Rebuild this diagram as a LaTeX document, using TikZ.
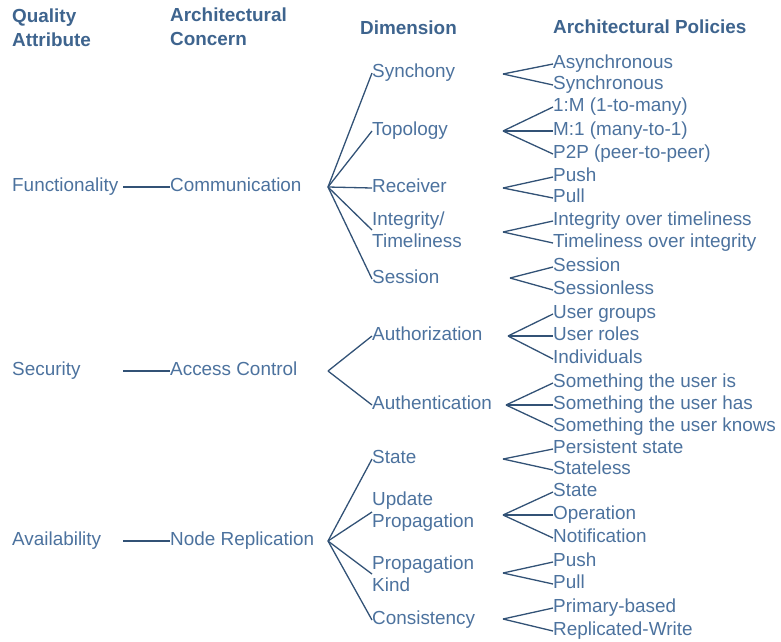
\documentclass[tikz,border=0pt]{standalone}
\usepackage{fontspec}
\setmainfont{Liberation Sans}
\definecolor{txtc}{RGB}{76,114,158}
\definecolor{hdrc}{RGB}{62,100,142}
\definecolor{linec}{RGB}{50,82,118}
\begin{document}
\begin{tikzpicture}[x=1pt,y=-1pt,
  lbl/.style={anchor=west, inner sep=0pt, text=txtc, font=\fontsize{18.9}{22}\selectfont, text height=13.6pt, text depth=4pt},
  lbltwo/.style={anchor=west, inner sep=0pt, text=txtc, font=\fontsize{18.9}{22}\selectfont, align=left},
  hdr/.style={anchor=west, inner sep=0pt, text=hdrc, font=\fontsize{18.9}{24}\selectfont\bfseries, align=left},
  conn/.style={draw=linec, line width=1.3pt}]
\useasboundingbox (0,0) rectangle (781,641);

% headers
\node[hdr] (h1) at (12,28) {Quality\\Attribute};
\node[hdr] (h2) at (170,27) {Architectural\\Concern};
\node[hdr] (h3) at (360,28) {Dimension};
\node[hdr] (h4) at (553,27) {Architectural Policies};

% quality attributes and concerns
\node[lbl] (func) at (12,187) {Functionality};
\node[lbl] (comm) at (170,187) {Communication};
\node[lbl] (sec) at (12,371) {Security};
\node[lbl] (ac) at (170,371) {Access Control};
\node[lbl] (avail) at (12,541) {Availability};
\node[lbl] (nr) at (170,541) {Node Replication};

\coordinate (s1) at (123,187);
\coordinate (s2) at (123,371);
\coordinate (s3) at (123,541);
\draw[conn] (s1) -- (comm.west);
\draw[conn] (s2) -- (ac.west);
\draw[conn] (s3) -- (nr.west);

% dimensions
\node[lbl] (syn) at (372,73) {Synchony};
\node[lbl] (top) at (372,131) {Topology};
\node[lbl] (rec) at (372,188) {Receiver};
\node[lbltwo] (int) at (372,230) {Integrity/\\Timeliness};
\node[lbl] (ses) at (372,279) {Session};
\node[lbl] (autz) at (372,336) {Authorization};
\node[lbl] (autn) at (372,405) {Authentication};
\node[lbl] (st) at (372,459) {State};
\node[lbltwo] (up) at (372,512) {Update\\Propagation};
\node[lbltwo] (pk) at (372,574) {Propagation\\Kind};
\node[lbl] (con) at (372,620) {Consistency};

\coordinate (cf) at (328,187);
\coordinate (af) at (328,371);
\coordinate (nf) at (328,541);
\foreach \d in {syn,top,rec,int,ses} \draw[conn] (cf) -- (\d.west);
\foreach \d in {autz,autn} \draw[conn] (af) -- (\d.west);
\foreach \d in {st,up,pk,con} \draw[conn] (nf) -- (\d.west);

% policies
\node[lbl] (p1) at (553,64) {Asynchronous};
\node[lbl] (p2) at (553,85) {Synchronous};
\node[lbl] (p3) at (553,107) {1:M (1-to-many)};
\node[lbl] (p4) at (553,131) {M:1 (many-to-1)};
\node[lbl] (p5) at (553,154) {P2P (peer-to-peer)};
\node[lbl] (p6) at (553,177) {Push};
\node[lbl] (p7) at (553,198) {Pull};
\node[lbl] (p8) at (553,221) {Integrity over timeliness};
\node[lbl] (p9) at (553,243) {Timeliness over integrity};
\node[lbl] (p10) at (553,267) {Session};
\node[lbl] (p11) at (553,290) {Sessionless};
\node[lbl] (p12) at (553,314) {User groups};
\node[lbl] (p13) at (553,336) {User roles};
\node[lbl] (p14) at (553,359) {Individuals};
\node[lbl] (p15) at (553,383) {Something the user is};
\node[lbl] (p16) at (553,405) {Something the user has};
\node[lbl] (p17) at (553,427) {Something the user knows};
\node[lbl] (p18) at (553,449) {Persistent state};
\node[lbl] (p19) at (553,470) {Stateless};
\node[lbl] (p20) at (553,492) {State};
\node[lbl] (p21) at (553,515) {Operation};
\node[lbl] (p22) at (553,538) {Notification};
\node[lbl] (p23) at (553,562) {Push};
\node[lbl] (p24) at (553,584) {Pull};
\node[lbl] (p25) at (553,608) {Primary-based};
\node[lbl] (p26) at (553,631) {Replicated-Write};

\coordinate (f1) at (503,74);
\coordinate (f2) at (503,131);
\coordinate (f3) at (503,188);
\coordinate (f4) at (503,232);
\coordinate (f5) at (510,278);
\coordinate (f6) at (508,336);
\coordinate (f7) at (506,405);
\coordinate (f8) at (503,459);
\coordinate (f9) at (503,515);
\coordinate (f10) at (503,573);
\coordinate (f11) at (503,619);

\foreach \p in {p1,p2} \draw[conn] (f1) -- (\p.west);
\foreach \p in {p3,p4,p5} \draw[conn] (f2) -- (\p.west);
\foreach \p in {p6,p7} \draw[conn] (f3) -- (\p.west);
\foreach \p in {p8,p9} \draw[conn] (f4) -- (\p.west);
\foreach \p in {p10,p11} \draw[conn] (f5) -- (\p.west);
\foreach \p in {p12,p13,p14} \draw[conn] (f6) -- (\p.west);
\foreach \p in {p15,p16,p17} \draw[conn] (f7) -- (\p.west);
\foreach \p in {p18,p19} \draw[conn] (f8) -- (\p.west);
\foreach \p in {p20,p21,p22} \draw[conn] (f9) -- (\p.west);
\foreach \p in {p23,p24} \draw[conn] (f10) -- (\p.west);
\foreach \p in {p25,p26} \draw[conn] (f11) -- (\p.west);
\end{tikzpicture}
\end{document}
